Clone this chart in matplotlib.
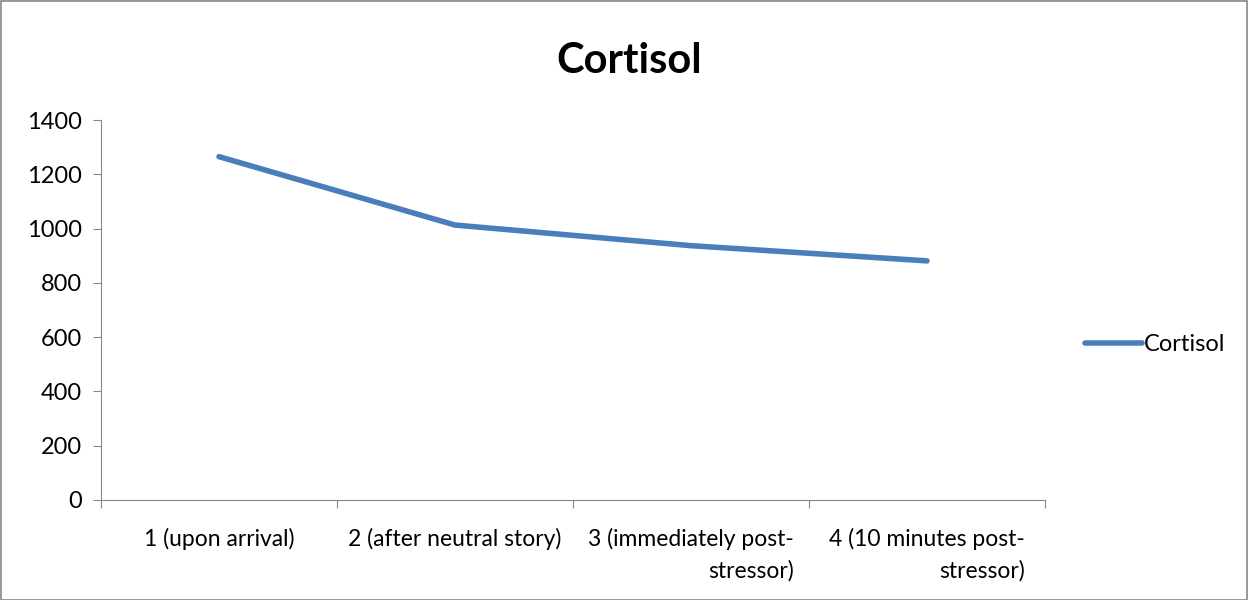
import matplotlib.pyplot as plt
from matplotlib.patches import Rectangle

plt.rcParams['font.family'] = ['Lato', 'DejaVu Sans']

categories = ["1 (upon arrival)", "2 (after neutral story)",
              "3 (immediately post-\nstressor)", "4 (10 minutes post-\nstressor)"]
cortisol = [1265, 1013, 937, 881]
yticks = [0, 200, 400, 600, 800, 1000, 1200, 1400]

fig = plt.figure(figsize=(12.48, 6), dpi=100)
ax = fig.add_axes([101/1248, 1 - 500/600, (1045 - 101)/1248, 380/600])

xpos = [i + 0.5 for i in range(len(categories))]
line, = ax.plot(xpos, cortisol, color='#4a7ebb', lw=4, solid_capstyle='round',
                solid_joinstyle='round', label='Cortisol')

ax.set_xlim(0, len(categories))
ax.set_ylim(0, 1400)
ax.set_yticks(yticks)
ax.set_xticks(range(len(categories) + 1))
ax.set_xticklabels([])
ax.set_xticks(xpos, minor=True)
ax.set_xticklabels(categories, minor=True, multialignment='right', fontsize=16.5,
                   linespacing=1.6)
ax.tick_params(axis='x', which='minor', length=0, pad=20)
ax.tick_params(axis='x', which='major', length=6, color='#888888', direction='out')
ax.tick_params(axis='y', length=6, color='#888888', direction='out', labelsize=17, pad=8)

for s in ['top', 'right']:
    ax.spines[s].set_visible(False)
for s in ['left', 'bottom']:
    ax.spines[s].set_color('#888888')

fig.text(629/1248, 1 - 61/600, "Cortisol", ha='center', va='center',
         fontsize=30, fontweight='bold')

fig.legend(handles=[line], loc='center left', bbox_to_anchor=(1064/1248, 1 - 345/600),
           frameon=False, fontsize=17, handlelength=2.4, handletextpad=0.1)

fig.patches.append(Rectangle((0.5/1248, 0.5/600), 1 - 1.5/1248, 1 - 1.5/600,
                             transform=fig.transFigure, fill=False,
                             edgecolor='#888888', lw=1.2))

fig.savefig("out.png", dpi=100)
